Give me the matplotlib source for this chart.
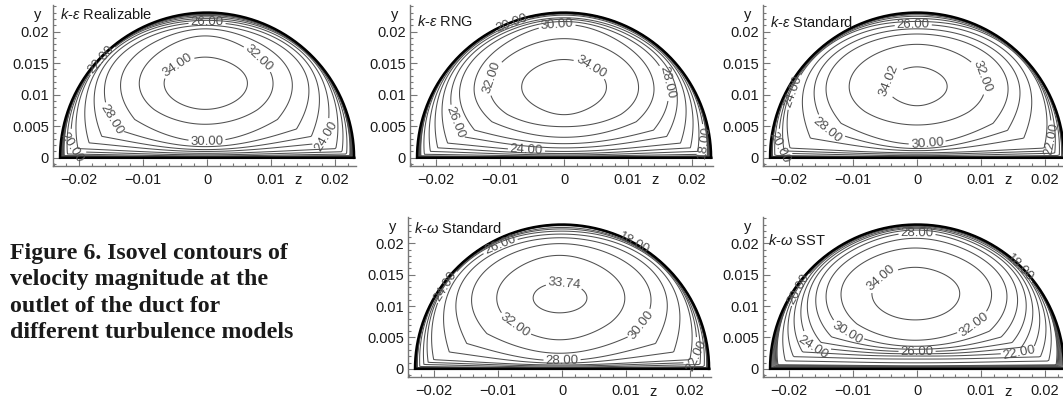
import numpy as np
import matplotlib
matplotlib.use("Agg")
import matplotlib.pyplot as plt
import matplotlib.tri as mtri
from matplotlib.ticker import MultipleLocator, FixedLocator, FuncFormatter

plt.rcParams['font.family'] = ['Liberation Sans', 'DejaVu Sans']
plt.rcParams['mathtext.fontset'] = 'custom'
plt.rcParams['mathtext.it'] = 'Liberation Sans:italic'
plt.rcParams['mathtext.rm'] = 'Liberation Sans'

# ---------------- data ----------------
MODEL_NAMES = [r'$k$-$\varepsilon$ Realizable', r'$k$-$\varepsilon$ RNG',
               r'$k$-$\varepsilon$ Standard', r'$k$-$\omega$ Standard',
               r'$k$-$\omega$ SST']
DUCT_RADIUS = 0.023
CORE_Z = [-0.0003, 0.0, 0.0, -0.0004, -0.0003]   # location of velocity maximum
CORE_Y = [0.0118, 0.0112, 0.0113, 0.0113, 0.0120]
# velocity values from the core (peak) out to the wall (0)
SPEEDS = [
    [35.0, 34.00, 32, 30, 28, 26, 24, 22, 20, 18, 16, 0],
    [35.0, 34.00, 32, 30, 28, 26, 24, 22, 20, 18, 16, 0],
    [34.5, 34.02, 32, 30, 28, 26, 24, 22, 20, 18, 16, 0],
    [34.1, 33.74, 32, 30, 28, 26, 24, 22, 20, 18, 16, 0],
    [34.8, 34.00, 32, 30, 28, 26, 24, 22, 20, 18, 16, 0],
]
# fraction of core-to-wall distance where each speed is reached
FRAC_TOP = [
    [0, .37, .67, .77, .82, .86, .89, .915, .94, .96, .975, 1],
    [0, .37, .65, .84, .88, .91, .93, .965, .98, .99, .995, 1],
    [0, .265, .57, .71, .78, .84, .88, .92, .95, .97, .985, 1],
    [0, .20, .58, .74, .82, .87, .91, .94, .96, .985, .993, 1],
    [0, .38, .66, .80, .88, .92, .945, .96, .975, .985, .992, 1],
]
FRAC_SIDE = [
    [0, .33, .53, .68, .805, .875, .925, .96, .975, .985, .992, 1],
    [0, .33, .58, .70, .81, .87, .92, .95, .97, .985, .992, 1],
    [0, .235, .53, .71, .80, .88, .955, .97, .98, .99, .995, 1],
    [0, .21, .50, .70, .82, .90, .955, .97, .98, .99, .995, 1],
    [0, .35, .60, .72, .80, .86, .90, .935, .96, .975, .988, 1],
]
FRAC_BOTTOM = [
    [0, .35, .55, .78, .85, .89, .915, .94, .96, .975, .985, 1],
    [0, .39, .56, .71, .80, .86, .91, .94, .96, .975, .988, 1],
    [0, .27, .54, .81, .87, .90, .93, .95, .97, .985, .993, 1],
    [0, .21, .59, .78, .885, .92, .945, .96, .975, .985, .993, 1],
    [0, .35, .62, .70, .74, .77, .80, .83, .87, .92, .96, 1],
]
CONTOUR_LEVELS = [
    [2, 4, 6, 8, 10, 12, 14, 16, 18, 20, 22, 24, 26, 28, 30, 32, 34.00],
    [2, 4, 6, 8, 10, 12, 14, 16, 18, 20, 22, 24, 26, 28, 30, 32, 34.00],
    [2, 4, 6, 8, 10, 12, 14, 16, 18, 20, 22, 24, 26, 28, 30, 32, 34.02],
    [2, 4, 6, 8, 10, 12, 14, 16, 18, 20, 22, 24, 26, 28, 30, 32, 33.74],
    [2, 4, 6, 8, 10, 12, 14, 16, 18, 20, 22, 24, 26, 28, 30, 32, 34.00],
]
LABELLED_LEVELS = [
    [26, 22, 32, 34.00, 28, 30, 24, 20],
    [20, 30, 34.00, 32, 28, 26, 24, 18],
    [26, 24, 34.02, 32, 28, 30, 22, 20],
    [26, 18, 24, 33.74, 32, 30, 28, 22],
    [28, 18, 20, 34.00, 32, 30, 24, 26, 22],
]
CAPTION = ("Figure 6. Isovel contours of\nvelocity magnitude at the\n"
           "outlet of the duct for\ndifferent turbulence models")

# ---------------- layout ----------------
W, H = 1063, 398
AX_PX = [(53, 5, 166), (410, 5, 166), (763, 5, 166), (408, 217, 377), (763, 217, 377)]
AX_W = 303
XLIM = (-0.0241, 0.0233)
YLIM = (-0.0013, 0.0242)
TITLE_POS = [(0.023, 0.94), (0.023, 0.895), (0.023, 0.89), (0.02, 0.93), (0.017, 0.856)]
LABEL_SPOTS = [
    [(0.0, 0.0215), (-0.0165, 0.0155), (0.0078, 0.0155), (-0.0042, 0.0139),
     (-0.0156, 0.0057), (0.0, 0.0022), (0.0177, 0.0036), (-0.0207, 0.0017)],
    [(-0.0083, 0.0215), (-0.0011, 0.0210), (0.0042, 0.0144), (-0.0105, 0.0124),
     (0.0161, 0.0119), (-0.0172, 0.0055), (-0.0059, 0.0010), (0.0216, 0.0024)],
    [(-0.0006, 0.0212), (-0.0196, 0.0105), (-0.0047, 0.0124), (0.0094, 0.0125),
     (-0.0141, 0.0041), (0.0016, 0.0021), (0.0208, 0.0030), (-0.0211, 0.0017)],
    [(-0.0095, 0.0192), (0.0113, 0.0200), (-0.0181, 0.0131), (0.0003, 0.0131),
     (-0.0078, 0.0063), (0.0133, 0.0063), (0.0, 0.0013), (0.0211, 0.0021)],
    [(0.0, 0.0219), (0.0160, 0.0160), (-0.0200, 0.0136), (-0.0055, 0.0144),
     (0.0092, 0.0065), (-0.0114, 0.0048), (-0.0164, 0.0029), (0.0, 0.0030),
     (0.0160, 0.0025)],
]
ROUNDING = 6.0
LINE_COLOR = '#505050'
AXIS_COLOR = '#777777'


def boundary_distance(zc, yc, th):
    c, s = np.cos(th), np.sin(th)
    R = DUCT_RADIUS
    cu = zc * c + yc * s
    t_circ = -cu + np.sqrt(cu ** 2 - (zc ** 2 + yc ** 2) + R ** 2)
    t_bot = np.where(s < -1e-12, yc / np.maximum(-s, 1e-12), np.inf)
    return np.minimum(t_circ, t_bot)


def build_field(k):
    zc, yc = CORE_Z[k], CORE_Y[k]
    u = np.asarray(SPEEDS[k], float)
    ft = np.asarray(FRAC_TOP[k], float)
    fs = np.asarray(FRAC_SIDE[k], float)
    fb = np.asarray(FRAC_BOTTOM[k], float)
    n = len(u)
    knots = np.arange(n)
    p = np.concatenate([np.linspace(j, j + 1, 30, endpoint=False) for j in range(n - 1)]
                       + [[n - 1]])[1:]
    N = 720
    th = np.linspace(-np.pi, np.pi, N, endpoint=False)
    c, s = np.cos(th), np.sin(th)
    D = boundary_distance(zc, yc, th)
    a_r = boundary_distance(zc, yc, np.array([0.0]))[0]
    a_l = boundary_distance(zc, yc, np.array([np.pi]))[0]
    b_u = boundary_distance(zc, yc, np.array([np.pi / 2]))[0]
    b_d = boundary_distance(zc, yc, np.array([-np.pi / 2]))[0]
    a = np.where(c >= 0, a_r, a_l)
    b = np.where(s >= 0, b_u, b_d)
    E = 1.0 / np.sqrt(c ** 2 / a ** 2 + s ** 2 / b ** 2)
    FT = np.interp(p, knots, ft)[:, None]
    FS = np.interp(p, knots, fs)[:, None]
    FB = np.interp(p, knots, fb)[:, None]
    F = FS * c ** 2 + np.where(s >= 0, FT, FB) * s ** 2
    g = F ** ROUNDING
    d = F * ((1 - g) * E + g * D)
    Z = zc + d * c
    Y = yc + d * s
    U = np.repeat(np.interp(p, knots, u)[:, None], N, axis=1)
    zs = np.concatenate([[zc], Z.ravel()])
    ys = np.concatenate([[yc], Y.ravel()])
    us = np.concatenate([[u[0]], U.ravel()])
    M = len(p)
    j = np.arange(N)
    jn = (j + 1) % N
    tris = [np.stack([np.zeros(N, int), 1 + j, 1 + jn], axis=1)]
    for m in range(M - 1):
        a0 = 1 + m * N + j
        b0 = 1 + m * N + jn
        c0 = 1 + (m + 1) * N + j
        d0 = 1 + (m + 1) * N + jn
        tris.append(np.stack([a0, b0, d0], axis=1))
        tris.append(np.stack([a0, d0, c0], axis=1))
    tri = mtri.Triangulation(zs, ys, np.concatenate(tris))
    return tri, us


def tick_fmt(v, pos):
    v = round(v, 6)
    if v == 0:
        return '0'
    return ('%g' % v).replace('-', '\u2212')


def label_level_near(cs, lev, spot):
    levels = list(cs.levels)
    idx = levels.index(lev)
    n = len(levels)
    cs.labelIndiceList = [idx]
    cs.labelLevelList = [lev] * n
    cs.labelCValueList = [cs.cvalues[idx]] * n
    cs.add_label_near(spot[0], spot[1], inline=True, inline_spacing=2)


fig = plt.figure(figsize=(W / 100, H / 100), dpi=100)

for k in range(5):
    left, top, bottom = AX_PX[k]
    ax = fig.add_axes([left / W, 1 - bottom / H, AX_W / W, (bottom - top) / H])
    ax.set_xlim(*XLIM)
    ax.set_ylim(*YLIM)
    for side in ('top', 'right'):
        ax.spines[side].set_visible(False)
    for side in ('left', 'bottom'):
        ax.spines[side].set_color(AXIS_COLOR)
        ax.spines[side].set_linewidth(1.0)
    ax.xaxis.set_major_locator(FixedLocator([-0.02, -0.01, 0, 0.01, 0.02]))
    ax.xaxis.set_minor_locator(MultipleLocator(0.002))
    ax.yaxis.set_major_locator(MultipleLocator(0.005))
    ax.yaxis.set_minor_locator(MultipleLocator(0.001))
    ax.xaxis.set_major_formatter(FuncFormatter(tick_fmt))
    ax.yaxis.set_major_formatter(FuncFormatter(tick_fmt))
    ax.tick_params(which='both', direction='in', color=AXIS_COLOR, width=0.8,
                   labelsize=10.5, labelcolor='#1a1a1a')
    ax.tick_params(which='major', length=5)
    ax.tick_params(which='minor', length=2.5)
    ax.tick_params(axis='x', pad=5)
    ax.tick_params(axis='y', pad=3)
    ax.patch.set_alpha(0)

    tri, us = build_field(k)
    cs = ax.tricontour(tri, us, levels=CONTOUR_LEVELS[k], colors=LINE_COLOR,
                       linewidths=0.75)
    cs.clabel(levels=[], fmt='%.2f', fontsize=9.5, inline=True, inline_spacing=2)
    for lev, spot in zip(LABELLED_LEVELS[k], LABEL_SPOTS[k]):
        label_level_near(cs, lev, spot)

    # duct wall
    R = DUCT_RADIUS
    phi = np.linspace(0, np.pi, 300)
    wz = np.concatenate([R * np.cos(phi), [-R, R]])
    wy = np.concatenate([R * np.sin(phi), [0, 0]])
    ax.plot(wz, wy, color='black', lw=1.8, solid_joinstyle='miter')

    tx, ty = TITLE_POS[k]
    ax.text(tx, ty, MODEL_NAMES[k], transform=ax.transAxes, ha='left', va='center',
            fontsize=10.5, color='#1a1a1a')
    ax.text(-0.05, 1 - 10 / (bottom - top), 'y', transform=ax.transAxes,
            ha='center', va='center', fontsize=10.5, color='#1a1a1a')
    ax.text(0.81, -14.5 / (bottom - top), 'z', transform=ax.transAxes,
            ha='center', va='center', fontsize=10.5, color='#1a1a1a')

fig.text(10 / W, 1 - 243 / H, CAPTION, ha='left', va='top', family='Liberation Serif',
         fontweight='bold', fontsize=17.2, linespacing=1.34, color='#1a1a1a')

fig.savefig('out.png', dpi=100)
